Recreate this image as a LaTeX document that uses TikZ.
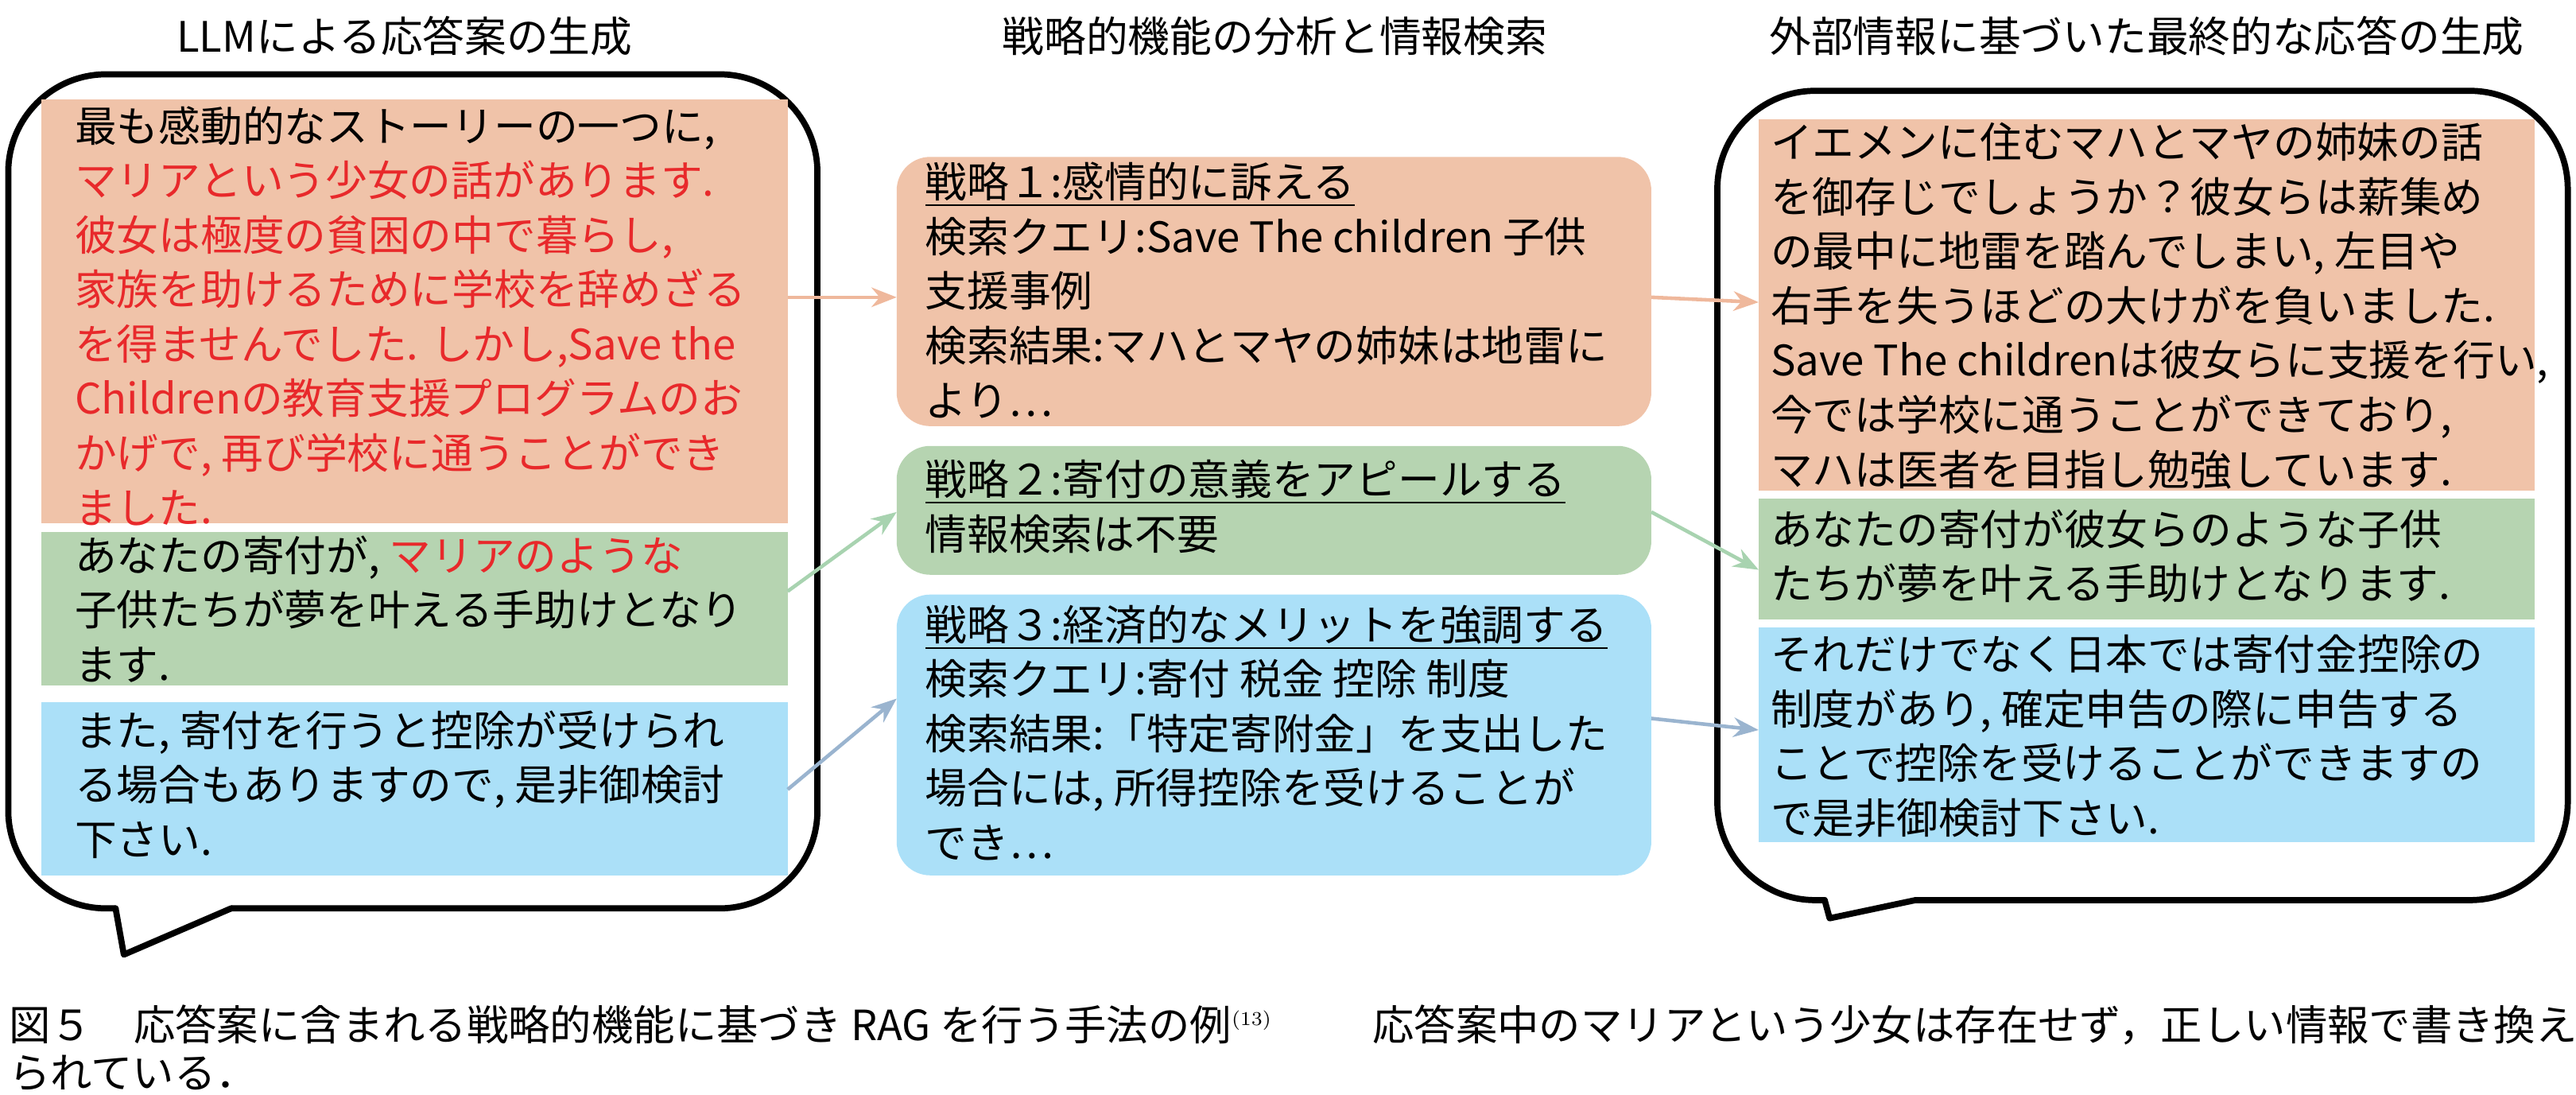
\documentclass[tikz,border=0pt]{standalone}
\usepackage{fontspec}
\setmainfont{Noto Sans CJK JP}
\usepackage{xcolor}
\usetikzlibrary{arrows.meta}
\definecolor{boxorange}{HTML}{F0C3A9}
\definecolor{boxgreen}{HTML}{B6D4B1}
\definecolor{boxblue}{HTML}{ABE0F8}
\definecolor{redtext}{HTML}{E8292B}
\definecolor{arrorange}{HTML}{EFB89C}
\definecolor{arrgreen}{HTML}{A8D3B0}
\definecolor{arrblue}{HTML}{9AB4CF}
\tikzset{
  txt/.style={anchor=north west,inner sep=0pt,align=left,font=\fontsize{15}{19.5}\selectfont},
  title/.style={inner sep=0pt,font=\fontsize{15}{18}\selectfont},
  bubble/.style={line width=2.2pt,line join=round,line cap=round},
  conn/.style={line width=1.3pt,-{Stealth[length=9pt,width=7pt]}},
}
\newcommand{\rd}[1]{\textcolor{redtext}{#1}}
\begin{document}
\begin{tikzpicture}[x=0.02077cm,y=-0.02077cm]
\useasboundingbox (0,0) rectangle (1560,663);
% titles
\node[title] (t1) at (245,22) {LLMによる応答案の生成};
\node[title] (t2) at (772,22) {戦略的機能の分析と情報検索};
\node[title] (t3) at (1300,22) {外部情報に基づいた最終的な応答の生成};
% speech bubbles
\draw[bubble,rounded corners=35pt] (140,550) -- (495,550) -- (495,45) -- (5,45) -- (5,550) -- (70,550);
\draw[bubble] (70,550) -- (75,578) -- (140,550);
\draw[bubble,rounded corners=35pt] (1160,545) -- (1555,545) -- (1555,55) -- (1040,55) -- (1040,545) -- (1105,545);
\draw[bubble] (1105,545) -- (1108,556) -- (1160,545);
% left boxes
\fill[boxorange] (25,60) rectangle (477,317);
\fill[boxgreen] (25,322) rectangle (477,415);
\fill[boxblue] (25,425) rectangle (477,530);
% middle boxes
\fill[boxorange,rounded corners=12pt] (543,95) rectangle (1000,258);
\fill[boxgreen,rounded corners=12pt] (543,270) rectangle (1000,348);
\fill[boxblue,rounded corners=12pt] (543,360) rectangle (1000,530);
% right boxes
\fill[boxorange] (1065,72) rectangle (1535,297);
\fill[boxgreen] (1065,302) rectangle (1535,375);
\fill[boxblue] (1065,380) rectangle (1535,510);
% texts
\node[txt] (lo) at (45,64) {最も感動的なストーリーの一つに,\\
\rd{マリアという少女の話があります.}\\
\rd{彼女は極度の貧困の中で暮らし,}\\
\rd{家族を助けるために学校を辞めざる}\\
\rd{を得ませんでした. しかし,Save the}\\
\rd{Childrenの教育支援プログラムのお}\\
\rd{かげで, 再び学校に通うことができ}\\
\rd{ました.}};
\node[txt] (lg) at (45,324) {あなたの寄付が, \rd{マリアのような}\\
子供たちが夢を叶える手助けとなり\\
ます.};
\node[txt] (lb) at (45,430) {また, 寄付を行うと控除が受けられ\\
る場合もありますので, 是非御検討\\
下さい.};
\node[txt] (mo) at (560,98) {\underline{戦略１:感情的に訴える}\\
検索クエリ:Save The children 子供\\
支援事例\\
検索結果:マハとマヤの姉妹は地雷に\\
より…};
\node[txt] (mg) at (560,278) {\underline{戦略２:寄付の意義をアピールする}\\
情報検索は不要};
\node[txt] (mb) at (560,366) {\underline{戦略３:経済的なメリットを強調する}\\
検索クエリ:寄付 税金 控除 制度\\
検索結果:「特定寄附金」を支出した\\
場合には, 所得控除を受けることが\\
でき…};
\node[txt] (ro) at (1072,74) {イエメンに住むマハとマヤの姉妹の話\\
を御存じでしょうか？彼女らは薪集め\\
の最中に地雷を踏んでしまい, 左目や\\
右手を失うほどの大けがを負いました.\\
Save The childrenは彼女らに支援を行い,\\
今では学校に通うことができており,\\
マハは医者を目指し勉強しています.};
\node[txt] (rg) at (1072,308) {あなたの寄付が彼女らのような子供\\
たちが夢を叶える手助けとなります.};
\node[txt] (rb) at (1072,384) {それだけでなく日本では寄付金控除の\\
制度があり, 確定申告の際に申告する\\
ことで控除を受けることができますの\\
で是非御検討下さい.};
% connector ends
\coordinate (loE) at (477,180); \coordinate (moW) at (543,180);
\coordinate (lgE) at (477,358); \coordinate (mgW) at (543,310);
\coordinate (lbE) at (477,478); \coordinate (mbW) at (543,423);
\coordinate (moE) at (1000,180); \coordinate (roW) at (1065,183);
\coordinate (mgE) at (1000,310); \coordinate (rgW) at (1065,345);
\coordinate (mbE) at (1000,435); \coordinate (rbW) at (1065,442);
\draw[conn,arrorange] (loE) -- (moW);
\draw[conn,arrgreen] (lgE) -- (mgW);
\draw[conn,arrblue] (lbE) -- (mbW);
\draw[conn,arrorange] (moE) -- (roW);
\draw[conn,arrgreen] (mgE) -- (rgW);
\draw[conn,arrblue] (mbE) -- (rbW);
% caption
\node[anchor=north west,inner sep=0pt,align=left,font=\fontsize{14.9}{17}\selectfont] (cap) at (5,608)
{図５\quad 応答案に含まれる戦略的機能に基づき RAG を行う手法の例$^{\scriptscriptstyle(13)}$\hspace{2.4em}応答案中のマリアという少女は存在せず，正しい情報で書き換え\\
られている．};
\end{tikzpicture}
\end{document}
